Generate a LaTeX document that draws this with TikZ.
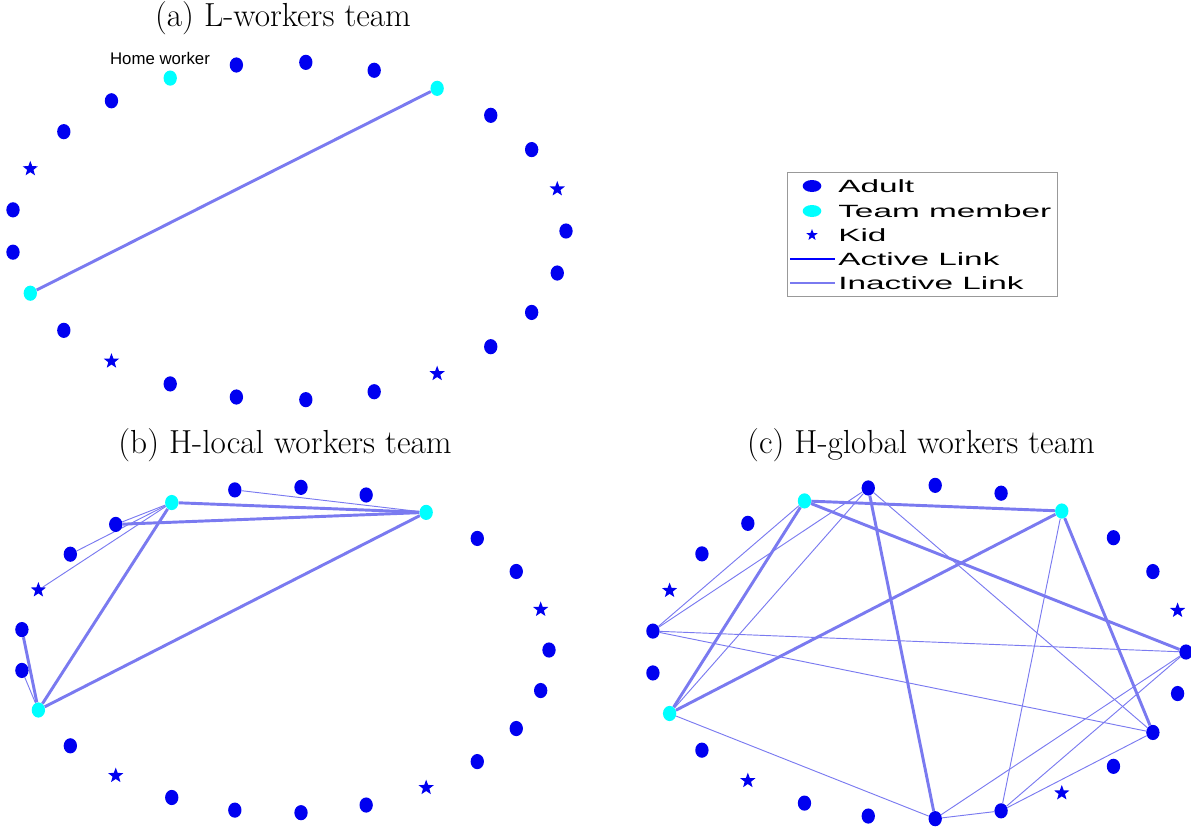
\documentclass[tikz,border=0pt]{standalone}
\usepackage{fontspec}
\newfontfamily\arialfont{Liberation Sans}
\usetikzlibrary{shapes.geometric,positioning,backgrounds}
\definecolor{linkblue}{RGB}{122,122,240}
\definecolor{teamcyan}{RGB}{0,255,255}
\definecolor{dotblue}{RGB}{0,0,240}

\begin{document}
\begin{tikzpicture}
    [x=0.75pt,y=-0.75pt,
    adult/.style={ellipse,fill=dotblue,inner sep=0pt,minimum width=10pt,minimum height=11.4pt},
    member/.style={adult,fill=teamcyan},
    kid/.style={star,star points=5,star point ratio=2.4,fill=dotblue,inner sep=0pt,minimum size=12pt},
    active/.style={draw=linkblue,line width=2.2pt},
    inactive/.style={draw=linkblue,line width=0.7pt},
    caption/.style={font=\fontsize{25}{30}\selectfont,inner sep=0pt},
    legendtext/.style={font=\arialfont\fontsize{13.3}{16}\selectfont,inner sep=0pt,anchor=west}]

    \useasboundingbox (0,0) rectangle (1191,829);

    % captions
    \node[caption] (ta) at (283,18) {(a) L-workers team};
    \node[caption] (tb) at (285,445) {(b) H-local workers team};
    \node[caption] (tc) at (921,445) {(c) H-global workers team};
    \node[font=\arialfont\fontsize{12.6}{15}\selectfont,inner sep=0pt] (hw) at (160,58) {Home worker};

    % people on a ring, one ring per team
    \foreach \p/\cx/\cy/\rx/\ry in {a/288.4/231/277.6/169,b/284.4/650/264.6/163,c/918.4/652/267.6/167}
      \foreach \k/\kind in {0/adult,1/kid,2/adult,3/adult,4/member,5/adult,6/adult,7/adult,8/member,9/adult,10/adult,11/kid,12/adult,13/adult,14/member,15/adult,16/kid,17/adult,18/adult,19/adult,20/adult,21/kid,22/adult,23/adult,24/adult}
        \node[\kind] (\p\k) at ({\cx+\rx*cos(14.4*\k)},{\cy-\ry*sin(14.4*\k)}) {};

    % links
    \begin{scope}[on background layer]
    \foreach \s/\t in {a4/a14,b8/b4,b9/b4,b8/b14,b14/b4,b12/b14,c8/c4,c8/c0,c8/c14,c14/c4,c7/c19,c4/c23}
      \draw[active] (\s) -- (\t);
    \foreach \s/\t in {b7/b4,b8/b10,b8/b11,b8/b9,b13/b14,c8/c12,c7/c12,c7/c14,c7/c23,c12/c0,c12/c23,c14/c19,c4/c20,c0/c19,c0/c20,c23/c20,c19/c20}
      \draw[inactive] (\s) -- (\t);
    \end{scope}

    % legend
    \node[draw=gray!80,line width=0.5pt,minimum width=202.5pt,minimum height=93pt,inner sep=0pt] (lgd) at (922,234) {};
    \node[ellipse,fill=dotblue,inner sep=0pt,minimum width=14pt,minimum height=9pt] (ladult) at (812,186) {};
    \node[ellipse,fill=teamcyan,inner sep=0pt,minimum width=14pt,minimum height=9pt] (lmember) at (812,211) {};
    \node[star,star points=5,star point ratio=2.4,fill=dotblue,inner sep=0pt,minimum size=9pt] (lkid) at (812,235) {};
    \coordinate (la1) at (790,259);
    \coordinate (la2) at (835,259);
    \coordinate (li1) at (790,283);
    \coordinate (li2) at (835,283);
    \draw[draw=blue,line width=1.4pt] (la1) -- (la2);
    \draw[draw=linkblue,line width=0.8pt] (li1) -- (li2);
    \node[legendtext] (tadult) at (838,186) {\scalebox{1.88}[1]{Adult}};
    \node[legendtext] (tmember) at (838,211) {\scalebox{1.88}[1]{Team member}};
    \node[legendtext] (tkid) at (838,235) {\scalebox{1.88}[1]{Kid}};
    \node[legendtext] (tactive) at (838,259) {\scalebox{1.88}[1]{Active Link}};
    \node[legendtext] (tinactive) at (838,283) {\scalebox{1.88}[1]{Inactive Link}};
\end{tikzpicture}
\end{document}
